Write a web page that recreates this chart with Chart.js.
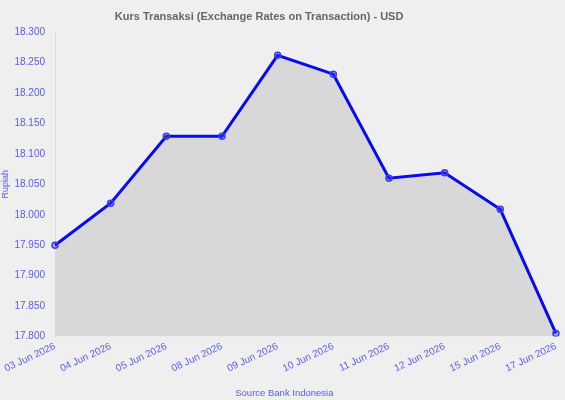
<!DOCTYPE html>
<html>
<head>
<meta charset="utf-8">
<script src="https://cdn.jsdelivr.net/npm/chart.js@4/dist/chart.umd.min.js"></script>
<style>
    html, body { margin: 0; padding: 0; background: #efefef; }
    #wrap { width: 565px; height: 400px; }
</style>
</head>
<body>
<div id="wrap"><canvas id="kursChart"></canvas></div>
<script>
// Data
const dateLabels = [
    '03 Jun 2026', '04 Jun 2026', '05 Jun 2026', '08 Jun 2026', '09 Jun 2026',
    '10 Jun 2026', '11 Jun 2026', '12 Jun 2026', '15 Jun 2026', '17 Jun 2026'
];
const kursValues = [17950, 18019, 18129, 18129, 18262, 18231, 18060, 18069, 18009, 17805];
const yMin = 17800;
const yMax = 18300;
const yStep = 50;

const tickColor = '#5b5bf0';
const fontFamily = 'Liberation Sans, Arial, sans-serif';
// title and source line sit a bit left of centre in the original, trailing nbsp pushes them over
const titleText = 'Kurs Transaksi (Exchange Rates on Transaction) - USD' + '\u00a0'.repeat(13);
const sourceText = 'Source Bank Indonesia' + '\u00a0'.repeat(16);

// Indonesian style number: 18.300
function formatRupiah(value) {
    return Math.round(value).toString().replace(/\B(?=(\d{3})+(?!\d))/g, '.');
}

const ctx = document.getElementById('kursChart').getContext('2d');

window.kursChart = new Chart(ctx, {
    type: 'line',
    data: {
        labels: dateLabels,
        datasets: [
            {
                label: 'Kurs Transaksi',
                data: kursValues,
                borderColor: '#0a0aee',
                backgroundColor: '#d8d8d8',
                borderWidth: 3,
                tension: 0,
                fill: 'start',
                pointRadius: 3,
                pointBorderWidth: 1.5,
                pointBorderColor: '#3a3aee',
                pointBackgroundColor: 'rgba(60, 60, 230, 0.35)',
            }
        ]
    },
    options: {
        responsive: true,
        maintainAspectRatio: false,
        animation: false,
        layout: {
            padding: { left: 0, right: 7, top: 0, bottom: 0 }
        },
        plugins: {
            legend: { display: false },
            tooltip: { enabled: false },
            title: {
                display: true,
                text: titleText,
                color: '#666666',
                font: { family: fontFamily, size: 11, weight: 'bold' },
                padding: { top: 10, bottom: 9 }
            }
        },
        scales: {
            x: {
                offset: false,
                grid: { display: false, drawTicks: false, tickLength: 0 },
                border: { display: false },
                ticks: {
                    color: tickColor,
                    maxRotation: 25,
                    minRotation: 25,
                    autoSkip: false,
                    padding: 4,
                    font: { family: fontFamily, size: 10 }
                },
                title: {
                    display: true,
                    text: sourceText,
                    color: tickColor,
                    font: { family: fontFamily, size: 9.5 },
                    padding: { top: 9, bottom: 1 }
                }
            },
            y: {
                min: yMin,
                max: yMax,
                grid: { display: false, drawTicks: false, tickLength: 0 },
                border: { display: true, color: '#dddddd', width: 1 },
                afterFit: scale => { scale.width = 55; },
                ticks: {
                    stepSize: yStep,
                    color: tickColor,
                    padding: 10,
                    font: { family: fontFamily, size: 10 },
                    callback: value => formatRupiah(value)
                },
                title: {
                    display: true,
                    text: 'Rupiah',
                    color: tickColor,
                    font: { family: fontFamily, size: 9 },
                    padding: { top: 0, bottom: 1 }
                }
            }
        }
    }
});
</script>
</body>
</html>
